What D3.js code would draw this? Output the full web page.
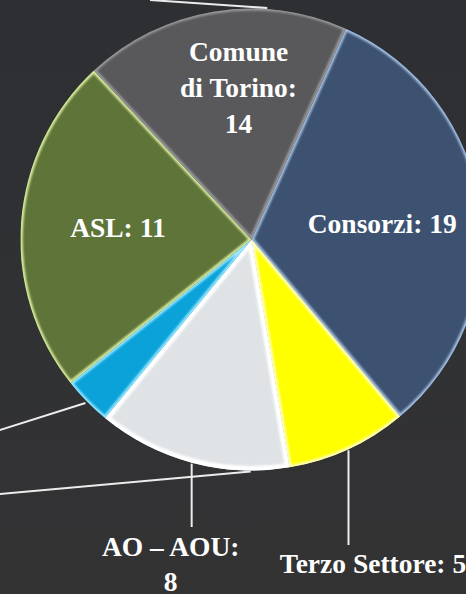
<!DOCTYPE html>
<html>
<head>
<meta charset="utf-8">
<script src="https://cdn.jsdelivr.net/npm/d3@7"></script>
<style>
  html, body { margin: 0; padding: 0; background: #303235; }
  svg { display: block; }
</style>
</head>
<body>
<svg id="chart" width="466" height="594"></svg>
<script>
// slices, clockwise from the Consorzi edge
const SLICE_NAMES = ["Consorzi", "Terzo Settore", "AO – AOU", "Altro", "ASL", "Comune di Torino"];
const SLICE_VALUES = [19, 5, 8, 2, 14, 11];
const SLICE_LABELS = [["Consorzi: 19"], ["Terzo Settore: 5"], ["AO – AOU:", "8"], [], ["ASL: 11"], ["Comune", "di Torino:", "14"]];
const SLICE_COLORS = ["#3d5270", "#ffff00", "#dfe3e6", "#0aa2d9", "#5e7438", "#59595b"];
const RIM_COLORS = ["#a6c2e6", "#ffffc8", "#ffffff", "#9ae8ff", "#dcefa0", "#9a9a9c"];

// leaders whose labels sit outside the picture (angle in degrees, from 12 o'clock)
const HIDDEN_LEADER_ANGLES = [3.9, 180.2];

const W = 466, H = 594;
const cx = 251.5, cy = 239.5, R = 231;
const startAngle = 24.1 * Math.PI / 180;
const FONT = "'Liberation Serif', 'Times New Roman', serif";

// label layout per slice: inside (radius + nudges) or outside (vertical leader)
const labelLayout = [
  { type: "inside", r: 132, dx: 0, dy: 3 },
  { type: "outside", leaderTo: 545, dx: 24.5, baseline: 573 },
  { type: "outside", leaderTo: 527, dx: -21, baseline: 556 },
  { type: "left", endX: -10 },
  { type: "inside", r: 134, dx: 0, dy: -1.5 },
  { type: "inside", r: 152, dx: 12, dy: -1.5 }
];
const hiddenEnds = [{ x: 150, y: 0 }, { x: -10, y: 495 }];

const svg = d3.select("#chart");
const defs = svg.append("defs");

const bg = defs.append("linearGradient").attr("id", "bg").attr("x1", 0).attr("y1", 0).attr("x2", 0).attr("y2", 1);
bg.append("stop").attr("offset", "0%").attr("stop-color", "#2d2f33");
bg.append("stop").attr("offset", "100%").attr("stop-color", "#333334");
svg.append("rect").attr("width", W).attr("height", H).attr("fill", "url(#bg)");

defs.append("filter").attr("id", "soft")
  .append("feGaussianBlur").attr("stdDeviation", 0.9);

const pie = d3.pie().sort(null).value(d => d)
  .startAngle(startAngle).endAngle(startAngle + 2 * Math.PI);
const arcs = pie(SLICE_VALUES);
const arc = d3.arc().innerRadius(0).outerRadius(R);

const g = svg.append("g").attr("transform", `translate(${cx},${cy})`);

arcs.forEach((d, i) => {
  defs.append("clipPath").attr("id", "clip" + i)
    .append("path").attr("d", arc(d));
});

const slices = g.selectAll("g.slice").data(arcs).join("g").attr("class", "slice");
slices.append("path")
  .attr("d", arc)
  .attr("fill", (d, i) => SLICE_COLORS[i]);
// bevel-like light rim inside each slice
slices.append("path")
  .attr("d", arc)
  .attr("fill", "none")
  .attr("stroke", (d, i) => RIM_COLORS[i])
  .attr("stroke-width", (d, i) => i === 2 ? 9 : 4.5)
  .attr("stroke-linejoin", "round")
  .attr("clip-path", (d, i) => `url(#clip${i})`)
  .attr("filter", "url(#soft)");

const pointAt = (angle, r) => [Math.sin(angle) * r, -Math.cos(angle) * r];
const mid = d => (d.startAngle + d.endAngle) / 2;

const lines = svg.append("g").attr("transform", `translate(${cx},${cy})`)
  .attr("stroke", "#ececec").attr("stroke-width", 2).attr("fill", "none");
const labels = svg.append("g").attr("transform", `translate(${cx},${cy})`)
  .attr("fill", "#ffffff").attr("font-family", FONT).attr("font-weight", "bold")
  .attr("font-size", 27.5).attr("text-anchor", "middle");

const lineH = 36, capMid = 9;

arcs.forEach((d, i) => {
  const lay = labelLayout[i];
  const a = mid(d);
  if (lay.type === "inside") {
    const [x, y] = d3.arc().innerRadius(lay.r).outerRadius(lay.r).centroid(d);
    const rows = SLICE_LABELS[i];
    const y0 = y + lay.dy - (rows.length - 1) * lineH / 2 + capMid;
    rows.forEach((t, k) => {
      labels.append("text").attr("x", x + lay.dx).attr("y", y0 + k * lineH).text(t);
    });
  } else if (lay.type === "outside") {
    const [x, y] = pointAt(a, R + 1);
    lines.append("line").attr("x1", x).attr("y1", y).attr("x2", x).attr("y2", lay.leaderTo - cy);
    SLICE_LABELS[i].forEach((t, k) => {
      labels.append("text").attr("x", x + lay.dx).attr("y", lay.baseline - cy + k * 35).text(t);
    });
  } else {
    const [x, y] = pointAt(a, R + 2);
    const slope = (430 - cy - y) / (0 - cx - x);
    const ex = lay.endX - cx;
    lines.append("line").attr("x1", x).attr("y1", y).attr("x2", ex).attr("y2", y + slope * (ex - x));
  }
});

HIDDEN_LEADER_ANGLES.forEach((deg, k) => {
  const [x, y] = pointAt(deg * Math.PI / 180, R + 1);
  lines.append("line").attr("x1", x).attr("y1", y)
    .attr("x2", hiddenEnds[k].x - cx).attr("y2", hiddenEnds[k].y - cy);
});
</script>
</body>
</html>
